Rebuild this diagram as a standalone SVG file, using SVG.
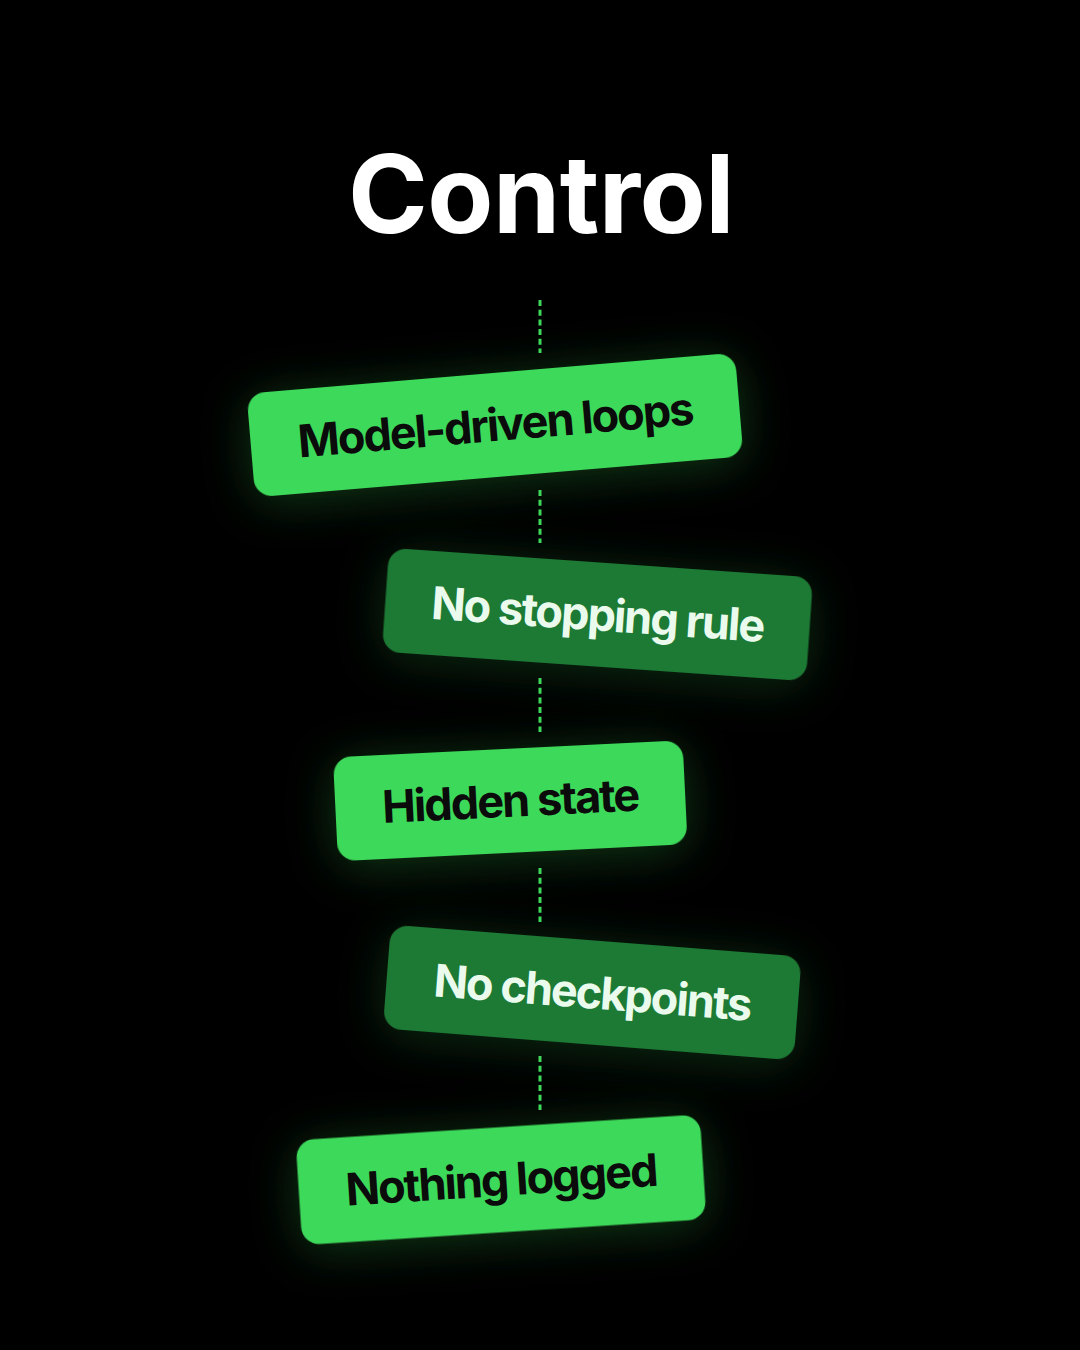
<svg xmlns="http://www.w3.org/2000/svg" width="1080" height="1350" viewBox="0 0 1080 1350">
<defs>
<filter id="glow" x="-40%" y="-100%" width="180%" height="300%">
<feDropShadow dx="0" dy="6" stdDeviation="24" flood-color="#3ddc57" flood-opacity="0.26"/>
</filter>
<filter id="glow2" x="-40%" y="-100%" width="180%" height="300%">
<feDropShadow dx="0" dy="6" stdDeviation="24" flood-color="#3ddc57" flood-opacity="0.2"/>
</filter>
</defs>
<style>
.title{font-family:Inter,"Liberation Sans",sans-serif;font-weight:700;font-size:108px;fill:#ffffff;letter-spacing:-0.005em}
.bright{fill:#3ed95a;filter:url(#glow)}
.dark{fill:#1f7a36;filter:url(#glow2)}
.lbl{font-family:Inter,"Liberation Sans",sans-serif;font-weight:700;font-size:45px;letter-spacing:-0.042em;text-anchor:middle}
.t-dark{fill:#0b0b0b}
.t-light{fill:#eafbee}
.conn{stroke:#3ed95a;stroke-width:3;stroke-dasharray:6 3.7;fill:none}
</style>
<rect width="1080" height="1350" fill="#000000"/>
<text class="title" x="541" y="233" text-anchor="middle">Control</text>
<g id="connectors">
<line class="conn" x1="540" y1="300" x2="540" y2="353"/>
<line class="conn" x1="540" y1="490" x2="540" y2="543"/>
<line class="conn" x1="540" y1="678" x2="540" y2="732"/>
<line class="conn" x1="540" y1="868" x2="540" y2="922"/>
<line class="conn" x1="540" y1="1056" x2="540" y2="1110"/>
</g>
<g id="node1" transform="translate(495,425) rotate(-4.8)">
<rect class="bright" x="-245" y="-52" width="490" height="104" rx="18"/>
<text class="lbl t-dark" x="0" y="16">Model-driven loops</text>
</g>
<g id="node2" transform="translate(597.5,614.5) rotate(4.0)">
<rect class="dark" x="-212.5" y="-52" width="425" height="104" rx="18"/>
<text class="lbl t-light" x="0" y="16">No stopping rule</text>
</g>
<g id="node3" transform="translate(510.25,800.75) rotate(-2.8)">
<rect class="bright" x="-175" y="-52" width="350" height="104" rx="18"/>
<text class="lbl t-dark" x="0" y="16">Hidden state</text>
</g>
<g id="node4" transform="translate(592.25,992.5) rotate(4.45)">
<rect class="dark" x="-206" y="-52" width="412" height="104" rx="18"/>
<text class="lbl t-light" x="0" y="16">No checkpoints</text>
</g>
<g id="node5" transform="translate(501,1179.75) rotate(-3.68)">
<rect class="bright" x="-202.5" y="-52.5" width="405" height="105" rx="18"/>
<text class="lbl t-dark" x="0" y="16">Nothing logged</text>
</g>
</svg>
